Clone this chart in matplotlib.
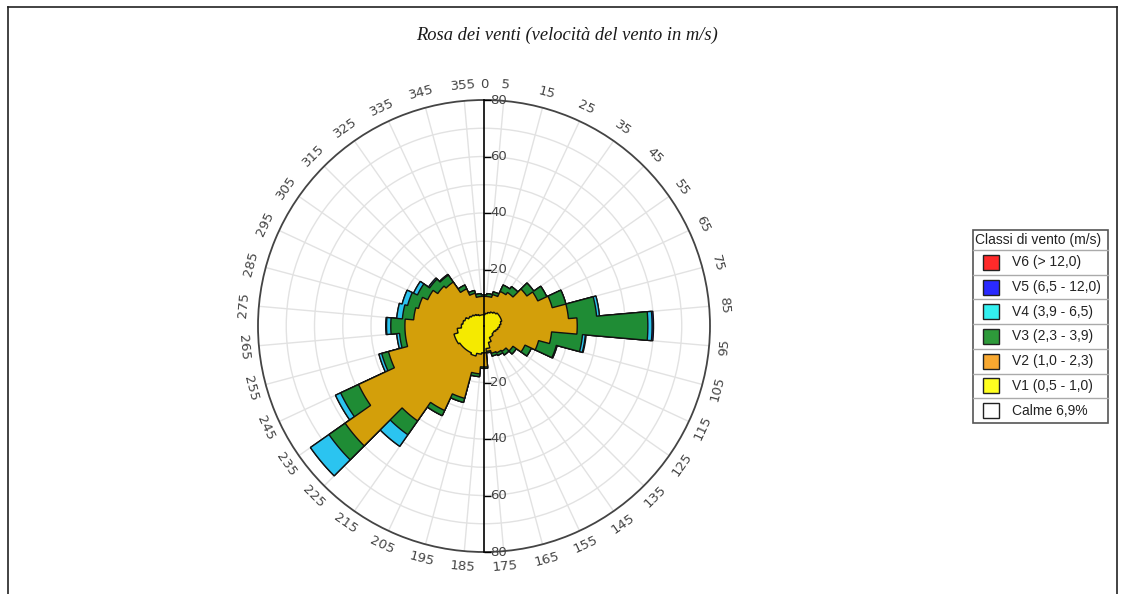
import numpy as np
import matplotlib.pyplot as plt
from matplotlib.patches import Rectangle
from matplotlib.lines import Line2D

# settori di direzione (centro, gradi) e frequenze per classe
DIRS = np.arange(0, 360, 10)
V1 = [4, 4.5, 5, 5.5, 6, 6.5, 6.5, 6.5, 6, 5.5, 5, 4.5, 4, 4, 4.5, 4.5, 6, 8,
      9.5, 10, 11, 10.5, 10.5, 10.5, 11, 11, 9.5, 8, 7.5, 7, 6, 5.5, 5, 4.5, 4, 4]
V2 = [6.5, 6, 6.5, 8, 8.5, 12, 14.5, 18.5, 24, 27.5, 19, 15.5, 12, 8.5, 6.5, 6, 4, 1,
      5, 7, 15.5, 22.5, 30.5, 49.5, 38, 24, 18.5, 20, 17.5, 17, 16, 14.5, 14, 10, 8, 6.5]
V3 = [0.5, 1, 1, 2.5, 2.5, 3, 3.5, 5, 10, 25, 11, 6.5, 2.5, 1.5, 1.5, 1, 1, 0.5,
      0.5, 1, 1.5, 2, 6, 7, 7, 2.5, 2, 5, 4, 4, 4, 3.5, 3, 1.5, 1, 1]
V4 = [0, 0, 0, 0, 0, 0, 0, 0, 1, 1.5, 1, 0.3, 0, 0, 0, 0, 0, 0,
      0, 0, 0, 0, 5, 8, 2, 1, 1, 1.5, 2, 2, 1.5, 0.5, 0.3, 0, 0, 0]
V5 = [0, 0, 0, 0, 0, 0, 0, 0, 0, 0.5, 0.3, 0, 0, 0, 0, 0, 0, 0,
      0, 0, 0, 0, 0, 0, 0, 0, 0, 0.3, 0, 0, 0, 0, 0, 0, 0, 0]
V6 = [0] * 36

CLASS_LABELS = ["V6 (> 12,0)", "V5 (6,5 - 12,0)", "V4 (3,9 - 6,5)",
                "V3 (2,3 - 3,9)", "V2 (1,0 - 2,3)", "V1 (0,5 - 1,0)", "Calme 6,9%"]
CHART_COLORS = ["#e02020", "#2030d0", "#2bc4f0", "#1f8c35", "#d39f0a", "#f5ea00"]
LEGEND_COLORS = ["#ff2a2a", "#2a2aff", "#33f0f0", "#2e9a3a", "#f8a830", "#ffff20", "#ffffff"]

R_TICKS = [20, 40, 60, 80]
TITLE = "Rosa dei venti (velocità del vento in m/s)"


def step_outline(radii, n=8):
    th, rr = [], []
    for c, v in zip(DIRS, radii):
        t = np.linspace(c - 5, c + 5, n)
        th.extend(t)
        rr.extend([v] * n)
    return np.deg2rad(th), np.array(rr)


W, H = 1122, 594
fig = plt.figure(figsize=(W / 100, H / 100), dpi=100)

# cornice esterna (aperta in basso)
for xs, ys in [([8, 8], [594, 7]), ([8, 1117], [7, 7]), ([1117, 1117], [7, 594])]:
    fig.add_artist(Line2D([x / W for x in xs], [1 - y / H for y in ys],
                          color="#222222", lw=1.2))

fig.text(567 / W, 1 - 35 / H, TITLE, ha="center", va="center",
         family="Liberation Serif", style="italic", fontsize=13.3, color="#1a1a1a")

cx, cy, R = 484, 326, 226
ax = fig.add_axes([(cx - R) / W, 1 - (cy + R) / H, 2 * R / W, 2 * R / H],
                  projection="polar")
ax.set_theta_zero_location("N")
ax.set_theta_direction(-1)
ax.set_ylim(0, 80)
ax.set_axisbelow(True)

ax.set_xticks(np.deg2rad(np.arange(5, 360, 10)))
ax.set_xticklabels([])
ax.set_yticks(np.arange(10, 80, 10))
ax.set_yticklabels([])
ax.tick_params(axis="y", length=0)
ax.tick_params(axis="x", direction="in", length=7, width=1, color="#333333")
ax.grid(color="#e2e2e2", lw=1)
ax.spines["polar"].set_color("#444444")
ax.spines["polar"].set_linewidth(1.3)

# strati cumulati, dal piu esterno al piu interno
layers = [V1, V2, V3, V4, V5, V6]
cum = np.cumsum(np.array(layers, dtype=float), axis=0)
for k in range(5, -1, -1):
    if cum[k].max() <= 0 or (k > 0 and np.allclose(cum[k], cum[k - 1])):
        continue
    th, rr = step_outline(cum[k])
    ax.fill(th, rr, facecolor=CHART_COLORS[5 - k], edgecolor="#111111", lw=1.0, zorder=2)

# asse verticale con etichette radiali
ax.plot([0, 0], [0, 80], color="black", lw=1.2, zorder=4, clip_on=False)
ax.plot([np.pi, np.pi], [0, 80], color="black", lw=1.2, zorder=4, clip_on=False)
for ang in (0, np.pi):
    for v in R_TICKS:
        ax.plot([ang], [v], marker=1, ms=5, mew=1, color="black", zorder=4, clip_on=False)
        ax.annotate(str(v), xy=(ang, v), xytext=(4.5, 0), textcoords="offset points",
                    ha="left", va="center", fontsize=9.5, color="#444444", zorder=5)

# etichette angolari
for a in list(range(5, 360, 10)) + [0]:
    rot = -a if np.cos(np.deg2rad(a)) > 0 else 180 - a
    ax.text(np.deg2rad(a), 85.5, str(a), rotation=rot, rotation_mode="anchor",
            ha="center", va="center", fontsize=9.5, color="#444444", clip_on=False)

# legenda a tabella
lx0, lx1, ly0 = 973, 1108, 230
rows = [250 + 24.7 * i for i in range(8)]
fig.add_artist(Rectangle((lx0 / W, 1 - rows[-1] / H), (lx1 - lx0) / W,
                         (rows[-1] - ly0) / H, fill=False, ec="#555555", lw=1.2))
fig.text((lx0 + 2) / W, 1 - 240 / H, "Classi di vento (m/s)", ha="left", va="center",
         family="Liberation Sans", fontsize=10, color="#222222")
for i, (lab, col) in enumerate(zip(CLASS_LABELS, LEGEND_COLORS)):
    fig.add_artist(Line2D([lx0 / W, lx1 / W], [1 - rows[i] / H] * 2, color="#aaaaaa", lw=1))
    yc = (rows[i] + rows[i + 1]) / 2
    fig.add_artist(Rectangle((983 / W, 1 - (yc + 7.5) / H), 16 / W, 15 / H,
                             fc=col, ec="#222222", lw=1))
    fig.text(1012 / W, 1 - yc / H, lab, ha="left", va="center",
             family="Liberation Sans", fontsize=10, color="#222222")

fig.savefig("out.png", dpi=100)
